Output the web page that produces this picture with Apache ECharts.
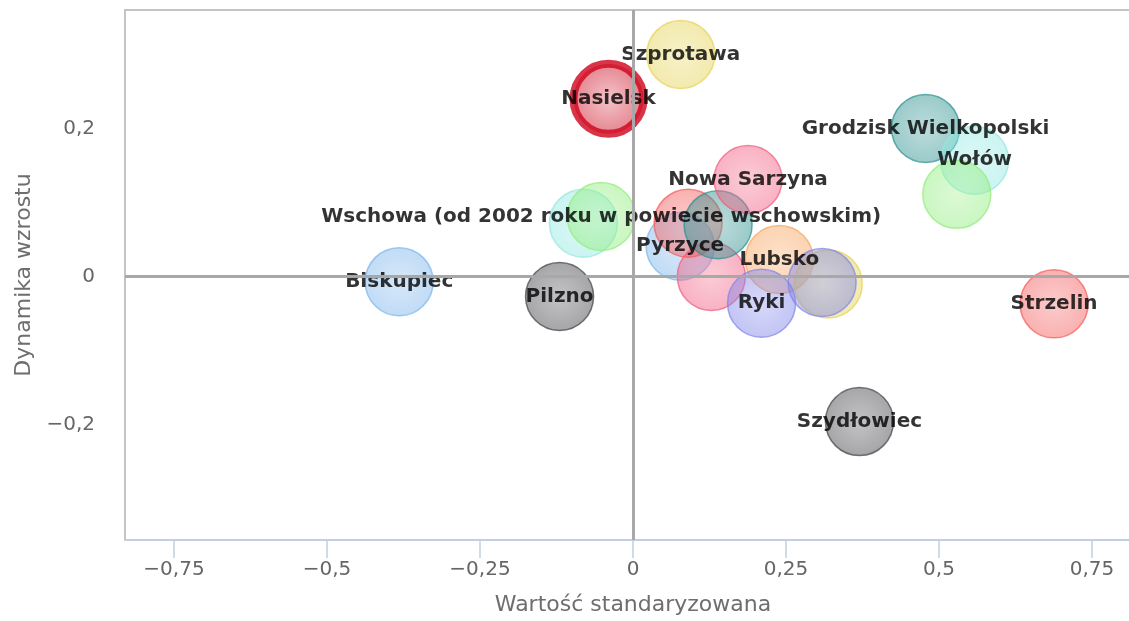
<!DOCTYPE html>
<html>
<head>
<meta charset="utf-8">
<title>Dynamika wzrostu</title>
<script src="https://cdn.jsdelivr.net/npm/echarts@6/dist/echarts.min.js"></script>
<style>
  html, body { margin: 0; padding: 0; background: #fff; }
  #chart { width: 1129px; height: 621px; }
</style>
</head>
<body>
<div id="chart"></div>
<script>
// gminy ('' = bąbel bez etykiety)
const names = [
  'Biskupiec', 'Pilzno', '', 'Wschowa (od 2002 roku w powiecie wschowskim)',
  'Pyrzyce', '', '', '', 'Nowa Sarzyna', 'Lubsko', 'Ryki', '', '',
  'Szprotawa', 'Nasielsk', 'Grodzisk Wielkopolski', 'Wołów', '', 'Strzelin', 'Szydłowiec'
];
// wartość standaryzowana
const xValues = [
  -0.382, -0.12, -0.081, -0.052,
  0.077, 0.128, 0.090, 0.139, 0.188, 0.239, 0.21, 0.319, 0.309,
  0.078, -0.04, 0.478, 0.558, 0.529, 0.688, 0.37
];
// dynamika wzrostu
const yValues = [
  -0.007, -0.027, 0.072, 0.081,
  0.041, 0.0, 0.072, 0.07, 0.131, 0.023, -0.036, -0.01, -0.008,
  0.30, 0.24, 0.20, 0.157, 0.111, -0.037, -0.196
];
const xTicks = [-0.75, -0.5, -0.25, 0, 0.25, 0.5, 0.75];
const yTicks = [-0.2, 0, 0.2];

// kolory bąbli (styl)
const palette = [
  '#7cb5ec', '#434348', '#91e8e1', '#90ed7d',
  '#7cb5ec', '#f15c80', '#f45b5b', '#2b908f', '#f15c80', '#f7a35c', '#8085e9', '#e4d354', '#8085e9',
  '#e4d354', '#f45b5b', '#2b908f', '#91e8e1', '#90ed7d', '#f45b5b', '#434348'
];

function hexA(hex, a) {
  const n = parseInt(hex.slice(1), 16);
  return 'rgba(' + (n >> 16) + ',' + ((n >> 8) & 255) + ',' + (n & 255) + ',' + a + ')';
}
function lighter(hex, k, a) {
  const n = parseInt(hex.slice(1), 16);
  const r = Math.round((n >> 16) + (255 - (n >> 16)) * k);
  const g = Math.round(((n >> 8) & 255) + (255 - ((n >> 8) & 255)) * k);
  const b = Math.round((n & 255) + (255 - (n & 255)) * k);
  return 'rgba(' + r + ',' + g + ',' + b + ',' + a + ')';
}
function fmt(v) {
  return (v < 0 ? '\u2212' : '') + String(Math.abs(v)).replace('.', ',');
}

const points = names.map((name, i) => {
  const c = palette[i];
  const special = name === 'Nasielsk';
  return {
    name: name,
    value: [xValues[i], yValues[i]],
    symbolSize: special ? 70 : 68,
    itemStyle: {
      color: {
        type: 'radial', x: 0.5, y: 0.5, r: 0.5,
        colorStops: special
          ? [{ offset: 0, color: '#f1b4bb' }, { offset: 1, color: '#dd5f6d' }]
          : [{ offset: 0, color: lighter(c, 0.2, 0.5) }, { offset: 1, color: hexA(c, 0.6) }]
      },
      borderColor: special ? '#d0021b' : hexA(c, 0.9),
      borderWidth: special ? 8 : 1.5
    },
    label: { show: name !== '' }
  };
});

const chart = echarts.init(document.getElementById('chart'));
chart.setOption({
  animation: false,
  textStyle: { fontFamily: 'DejaVu Sans' },
  grid: {
    left: 125, top: 10, width: 1016, height: 530,
    outerBoundsMode: 'none',
    containLabel: false,
    show: true, borderColor: '#c4c4c4', borderWidth: 2, backgroundColor: '#fff'
  },
  xAxis: {
    type: 'value',
    min: -0.83, max: 0.83,
    name: 'Wartość standaryzowana',
    nameLocation: 'middle',
    nameGap: 54,
    nameTextStyle: { fontSize: 22, color: '#6e6e6e' },
    axisLine: { show: true, onZero: false, lineStyle: { color: '#c0d0e0', width: 2 } },
    axisTick: { show: true, length: 18, customValues: xTicks, lineStyle: { color: '#c0d0e0', width: 1.5 } },
    axisLabel: { customValues: xTicks, fontSize: 20, color: '#666', margin: 20, formatter: fmt },
    splitLine: { show: false }
  },
  yAxis: {
    type: 'value',
    min: -0.356, max: 0.36,
    name: 'Dynamika wzrostu',
    nameLocation: 'middle',
    nameGap: 89,
    nameTextStyle: { fontSize: 22, color: '#6e6e6e' },
    axisLine: { show: false },
    axisTick: { show: false },
    axisLabel: { customValues: yTicks, fontSize: 20, color: '#666', margin: 30, formatter: fmt },
    splitLine: { show: false }
  },
  series: [
    {
      type: 'scatter',
      data: [],
      z: 1,
      silent: true,
      markLine: {
        silent: true,
        symbol: 'none',
        label: { show: false },
        lineStyle: { color: '#a8a8a8', width: 3, type: 'solid' },
        data: [{ xAxis: 0 }, { yAxis: 0 }]
      }
    },
    {
      type: 'scatter',
      z: 2,
      data: points,
      label: {
        position: 'inside',
        formatter: '{b}',
        fontSize: 20,
        fontWeight: 'bold',
        color: '#000'
      }
    }
  ]
});
</script>
</body>
</html>
